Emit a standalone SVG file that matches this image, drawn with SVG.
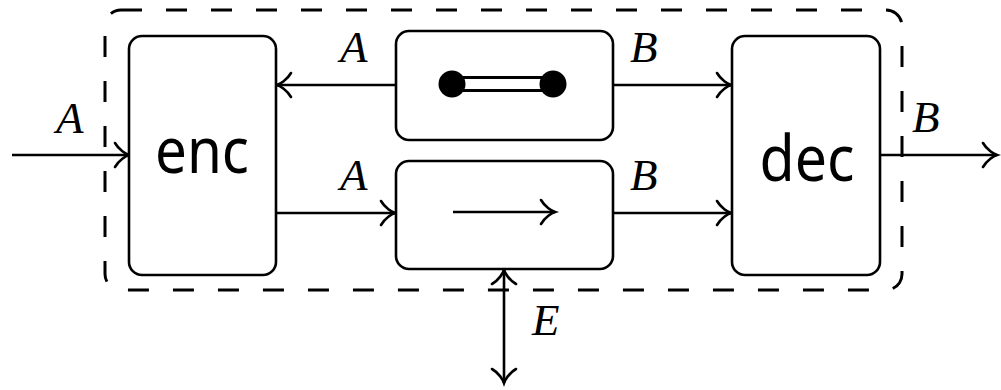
<svg xmlns="http://www.w3.org/2000/svg" width="1001" height="390" viewBox="0 0 1001 390">
<defs>
<style>
.box{fill:#fff;stroke:#000;stroke-width:2.6}
.ln{fill:none;stroke:#000;stroke-width:2.6}
.arr{marker-end:url(#to)}
.lab{font-family:"Liberation Serif",serif;font-style:italic;font-size:45px;fill:#000}
.big{font-family:"Noto Sans","DejaVu Sans",sans-serif;font-size:64px;fill:#000;text-anchor:middle}
</style>
<marker id="to" markerUnits="userSpaceOnUse" viewBox="-16 -14 18 28" refX="0" refY="0" markerWidth="18" markerHeight="28" orient="auto" overflow="visible">
<path d="M-14,-12 C-10,-5 -3,-1 0,0 C-3,1 -10,5 -14,12" fill="none" stroke="#000" stroke-width="2.6" stroke-linecap="round"/>
</marker>
</defs>
<rect x="105" y="10" width="797" height="280" rx="16" fill="none" stroke="#000" stroke-width="3" stroke-dasharray="21 24"/>
<g id="connectors">
<line class="ln arr" x1="12" y1="155" x2="129" y2="155"/>
<line class="ln arr" x1="880" y1="155" x2="997" y2="155"/>
<line class="ln arr" x1="396" y1="85" x2="277" y2="85"/>
<line class="ln arr" x1="613" y1="85" x2="731" y2="85"/>
<line class="ln arr" x1="277" y1="213" x2="395" y2="213"/>
<line class="ln arr" x1="613" y1="213" x2="731" y2="213"/>
<line class="ln arr" x1="504" y1="326" x2="504" y2="270"/>
<line class="ln arr" x1="504" y1="326" x2="504" y2="383"/>
</g>
<g id="enc">
<rect class="box" x="129" y="36" width="147" height="239" rx="13"/>
<text class="big" x="202" y="173" textLength="94" lengthAdjust="spacingAndGlyphs">enc</text>
</g>
<g id="dec">
<rect class="box" x="732" y="36" width="148" height="239" rx="13"/>
<text class="big" x="807" y="181" textLength="95" lengthAdjust="spacingAndGlyphs">dec</text>
</g>
<g id="channel-top">
<rect class="box" x="396" y="31" width="217" height="109" rx="13"/>
<line x1="452" y1="84" x2="553" y2="84" stroke="#000" stroke-width="16"/>
<line x1="452" y1="84" x2="553" y2="84" stroke="#fff" stroke-width="10"/>
<circle cx="452" cy="84" r="13.5" fill="#000"/>
<circle cx="553" cy="84" r="13.5" fill="#000"/>
</g>
<g id="channel-bottom">
<rect class="box" x="396" y="161" width="217" height="108" rx="13"/>
<line class="ln arr" x1="453" y1="212" x2="555" y2="212"/>
</g>
<g id="labels">
<text class="lab" x="56" y="133">A</text>
<text class="lab" x="340" y="62">A</text>
<text class="lab" x="340" y="190">A</text>
<text class="lab" x="630" y="62">B</text>
<text class="lab" x="630" y="190">B</text>
<text class="lab" x="912" y="132">B</text>
<text class="lab" x="532" y="335">E</text>
</g>
</svg>
